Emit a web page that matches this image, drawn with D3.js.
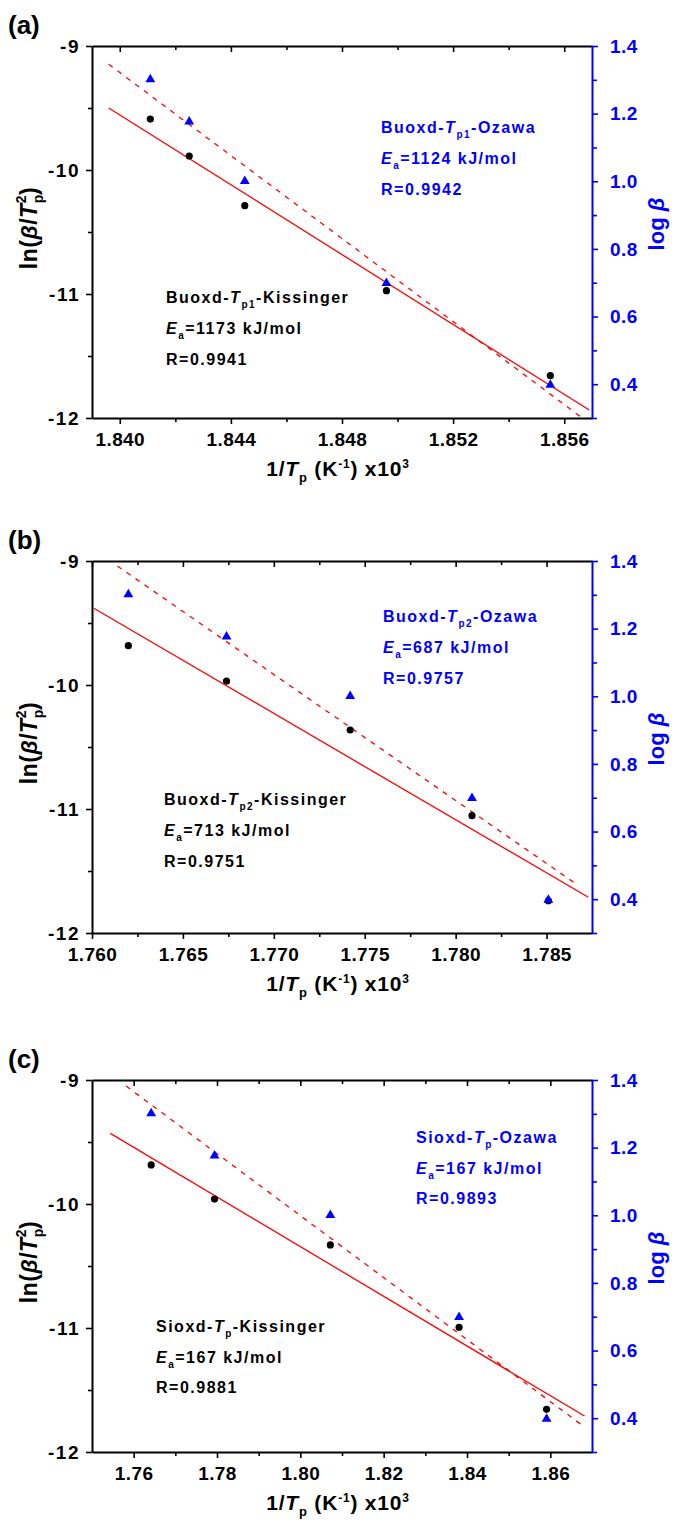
<!DOCTYPE html>
<html>
<head>
<meta charset="utf-8">
<script src="https://cdn.jsdelivr.net/npm/d3@7"></script>
<style>
  body { margin: 0; background: #fff; }
  svg text { font-family: "Liberation Sans", Arial, sans-serif; font-weight: bold; }
</style>
</head>
<body>
<div id="chart"></div>
<script>
// values
const panelLabels = ['(a)', '(b)', '(c)'];
const logBeta = [1.301, 1.176, 1.0, 0.699, 0.398];   // log of heating rate, same for all panels

const invTpA = [1.8411, 1.8425, 1.8445, 1.8496, 1.8555];
const lnA = [-9.589, -9.887, -10.288, -10.973, -11.659];
const kissLineA = [[1.8396, -9.50], [1.8569, -11.935]];
const ozLineA = [[1.8396, 1.346], [1.8566, 0.303]];

const invTpB = [1.7620, 1.7674, 1.7742, 1.7809, 1.7851];
const lnB = [-9.683, -9.968, -10.363, -11.054, -11.74];
const kissLineB = [[1.7601, -9.381], [1.7873, -11.712]];
const ozLineB = [[1.7614, 1.385], [1.7866, 0.446]];

const invTpC = [1.7642, 1.7794, 1.8072, 1.8381, 1.8591];
const lnC = [-9.685, -9.96, -10.33, -10.994, -11.656];
const kissLineC = [[1.7544, -9.43], [1.8682, -11.71]];
const ozLineC = [[1.7582, 1.382], [1.8682, 0.374]];

const xDomains = [[1.839, 1.857], [1.760, 1.7875], [1.75, 1.87]];
const xMajor = [
  [1.840, 1.844, 1.848, 1.852, 1.856],
  [1.760, 1.765, 1.770, 1.775, 1.780, 1.785],
  [1.76, 1.78, 1.80, 1.82, 1.84, 1.86]
];
const xMinor = [
  [1.842, 1.846, 1.850, 1.854],
  [1.7625, 1.7675, 1.7725, 1.7775, 1.7825],
  [1.77, 1.79, 1.81, 1.83, 1.85]
];
const xFormats = ['.3f', '.3f', '.2f'];
const lnTicks = [-9, -10, -11, -12];
const lnMinor = [-9.5, -10.5, -11.5];
const logTicks = [0.4, 0.6, 0.8, 1.0, 1.2, 1.4];
const logMinor = [0.3, 0.5, 0.7, 0.9, 1.1, 1.3];

// annotation texts
const sampleNames = ['Buoxd', 'Buoxd', 'Sioxd'];
const tpSubs = ['p1', 'p2', 'p'];
const ozawaEa = ['1124', '687', '167'];
const ozawaR = ['0.9942', '0.9757', '0.9893'];
const kissEa = ['1173', '713', '167'];
const kissR = ['0.9941', '0.9751', '0.9881'];

const panels = [
  {x: invTpA, ln: lnA, kiss: kissLineA, oz: ozLineA},
  {x: invTpB, ln: lnB, kiss: kissLineB, oz: ozLineB},
  {x: invTpC, ln: lnC, kiss: kissLineC, oz: ozLineC}
];

// layout
const W = 675, H = 1523;
const left = 92, plotW = 500, plotH = 372;
const tops = [46, 561, 1080];
const ozPos = [[289, 87], [291, 61], [324, 63]];
const kissPos = [[74, 257], [72, 244], [64, 252]];
const lineGap = [31, 31, 30.5];
const BLUE = '#0000ff', RED = '#ff0000';

const svg = d3.select('#chart').append('svg')
  .attr('width', W).attr('height', H);

const styleAxis = (g, color) => {
  g.select('.domain').attr('stroke', color).attr('stroke-width', 2);
  g.selectAll('.tick line').attr('stroke', color).attr('stroke-width', 1.6);
  g.selectAll('.tick text').attr('fill', color)
    .style('font-size', '19px').style('letter-spacing', '0.4px');
};

function annot(g, x, y, gap, color, i, method, ea, r) {
  const t1 = g.append('text').attr('x', x).attr('y', y).attr('fill', color)
    .style('font-size', '16px').style('letter-spacing', '1.5px');
  t1.append('tspan').text(sampleNames[i] + '-');
  t1.append('tspan').style('font-style', 'italic').text('T');
  t1.append('tspan').attr('dy', 5).style('font-size', '10px').text(tpSubs[i]);
  t1.append('tspan').attr('dy', -5).text('-' + method);

  const t2 = g.append('text').attr('x', x).attr('y', y + gap).attr('fill', color)
    .style('font-size', '16px').style('letter-spacing', '1.5px');
  t2.append('tspan').style('font-style', 'italic').text('E');
  t2.append('tspan').attr('dy', 5).style('font-size', '10px').text('a');
  t2.append('tspan').attr('dy', -5).text('=' + ea + ' kJ/mol');

  g.append('text').attr('x', x).attr('y', y + 2 * gap).attr('fill', color)
    .style('font-size', '16px').style('letter-spacing', '1.5px')
    .text('R=' + r);
}

panels.forEach((p, i) => {
  const g = svg.append('g').attr('transform', `translate(${left},${tops[i]})`);

  const x = d3.scaleLinear().domain(xDomains[i]).range([0, plotW]);
  const yL = d3.scaleLinear().domain([-12, -9]).range([plotH, 0]);
  const yR = d3.scaleLinear().domain([0.3, 1.4]).range([plotH, 0]);

  // bottom axis
  const bx = g.append('g').attr('transform', `translate(0,${plotH})`)
    .call(d3.axisBottom(x).tickValues(xMajor[i]).tickSize(6).tickSizeOuter(0)
      .tickPadding(9).tickFormat(d3.format(xFormats[i])));
  styleAxis(bx, '#000');
  const bxm = g.append('g').attr('transform', `translate(0,${plotH})`)
    .call(d3.axisBottom(x).tickValues(xMinor[i]).tickSize(4).tickFormat(''));
  bxm.select('.domain').remove();
  styleAxis(bxm, '#000');

  // top axis, ticks pointing in
  const tx = g.append('g')
    .call(d3.axisTop(x).tickValues(xMajor[i]).tickSize(-6).tickSizeOuter(0).tickFormat(''));
  styleAxis(tx, '#000');
  const txm = g.append('g')
    .call(d3.axisTop(x).tickValues(xMinor[i]).tickSize(-4).tickFormat(''));
  txm.select('.domain').remove();
  styleAxis(txm, '#000');

  // left axis
  const ly = g.append('g')
    .call(d3.axisLeft(yL).tickValues(lnTicks).tickSize(6).tickSizeOuter(0)
      .tickPadding(6).tickFormat(d3.format('d')));
  styleAxis(ly, '#000');
  ly.selectAll('.tick text').text(d => '-' + Math.abs(d)).style('letter-spacing', '1.5px');
  const lym = g.append('g').call(d3.axisLeft(yL).tickValues(lnMinor).tickSize(4).tickFormat(''));
  lym.select('.domain').remove();
  styleAxis(lym, '#000');

  // right axis (blue)
  const ry = g.append('g').attr('transform', `translate(${plotW},0)`)
    .call(d3.axisRight(yR).tickValues(logTicks).tickSize(6).tickSizeOuter(0)
      .tickPadding(12).tickFormat(d3.format('.1f')));
  styleAxis(ry, BLUE);
  const rym = g.append('g').attr('transform', `translate(${plotW},0)`)
    .call(d3.axisRight(yR).tickValues(logMinor).tickSize(5).tickFormat(''));
  rym.select('.domain').remove();
  styleAxis(rym, BLUE);

  // fitted lines
  g.append('path')
    .attr('d', d3.line().x(d => x(d[0])).y(d => yL(d[1]))(p.kiss))
    .attr('fill', 'none').attr('stroke', RED).attr('stroke-width', 1.3);
  g.append('path')
    .attr('d', d3.line().x(d => x(d[0])).y(d => yR(d[1]))(p.oz))
    .attr('fill', 'none').attr('stroke', RED).attr('stroke-width', 1.3)
    .attr('stroke-dasharray', '5,6');

  // points
  g.append('g').selectAll('circle')
    .data(p.x.map((v, k) => [v, p.ln[k]]))
    .join('circle')
      .attr('cx', d => x(d[0])).attr('cy', d => yL(d[1]))
      .attr('r', 3.6).attr('fill', '#000');
  g.append('g').selectAll('path')
    .data(p.x.map((v, k) => [v, logBeta[k]]))
    .join('path')
      .attr('transform', d => `translate(${x(d[0])},${yR(d[1])})`)
      .attr('d', d3.symbol(d3.symbolTriangle, 42))
      .attr('fill', BLUE);

  // annotations
  annot(g, ozPos[i][0], ozPos[i][1], lineGap[i], BLUE, i, 'Ozawa', ozawaEa[i], ozawaR[i]);
  annot(g, kissPos[i][0], kissPos[i][1], lineGap[i], '#000', i, 'Kissinger', kissEa[i], kissR[i]);

  // panel label
  g.append('text').attr('x', 8 - left).attr('y', -12)
    .style('font-size', '26px').text(panelLabels[i]);

  // x title
  const xt = g.append('text').attr('x', plotW / 2 - 4).attr('y', plotH + 58)
    .attr('text-anchor', 'middle').style('font-size', '21px').style('letter-spacing', '0.8px');
  xt.append('tspan').text('1/');
  xt.append('tspan').style('font-style', 'italic').text('T');
  xt.append('tspan').attr('dy', 6).style('font-size', '13px').text('p');
  xt.append('tspan').attr('dy', -6).text(' (K');
  xt.append('tspan').attr('dy', -8).style('font-size', '12px').text('-1');
  xt.append('tspan').attr('dy', 8).text(') x10');
  xt.append('tspan').attr('dy', -8).style('font-size', '12px').text('3');

  // left title
  const lt = g.append('text')
    .attr('transform', `translate(${37 - left},${plotH / 2 - 4}) rotate(-90)`)
    .attr('text-anchor', 'middle').style('font-size', '23px').style('letter-spacing', '0.5px');
  lt.append('tspan').text('ln(');
  lt.append('tspan').style('font-style', 'italic').text('β');
  lt.append('tspan').text('/');
  lt.append('tspan').style('font-style', 'italic').text('T');
  lt.append('tspan').attr('dy', 6).style('font-size', '14px').text('p');
  lt.append('tspan').attr('dx', -9).attr('dy', -17).style('font-size', '14px').text('2');
  lt.append('tspan').attr('dy', 11).text(')');

  // right title
  const rt = g.append('text')
    .attr('transform', `translate(${664 - left},${plotH / 2 - 8}) rotate(-90)`)
    .attr('text-anchor', 'middle').attr('fill', BLUE).style('font-size', '22px');
  rt.append('tspan').text('log ');
  rt.append('tspan').style('font-style', 'italic').text('β');
});
</script>
</body>
</html>
